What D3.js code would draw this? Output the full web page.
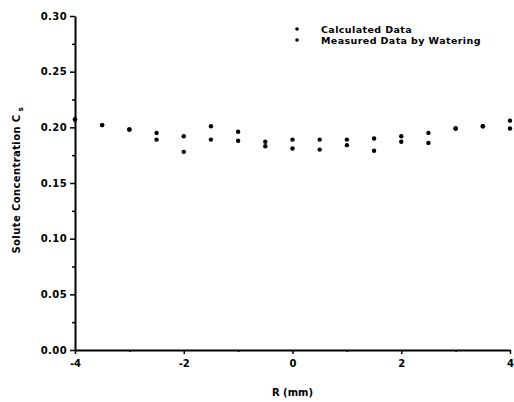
<!DOCTYPE html>
<html>
<head>
<meta charset="utf-8">
<script src="https://cdn.jsdelivr.net/npm/d3@7"></script>
<style>
  body { margin: 0; background: #fff; }
  text { font-family: "DejaVu Sans", "Liberation Sans", Arial, sans-serif; font-weight: bold; fill: #000; }
</style>
</head>
<body>
<div id="chart"></div>
<script>
// positions along R (mm)
const rValues = [-4, -3.5, -3, -2.5, -2, -1.5, -1, -0.5, 0, 0.5, 1, 1.5, 2, 2.5, 3, 3.5, 4];
const calculated = [0.207, 0.202, 0.198, 0.195, 0.192, 0.189, 0.188, 0.187, 0.189, 0.189, 0.189, 0.190, 0.192, 0.195, 0.199, 0.201, 0.206];
const measured = [0.207, 0.202, 0.198, 0.189, 0.178, 0.201, 0.196, 0.183, 0.181, 0.180, 0.184, 0.179, 0.187, 0.186, 0.199, 0.201, 0.199];
const xTicks = [-4, -2, 0, 2, 4];
const xMinor = [-3, -1, 1, 3];
const yTicks = [0, 0.05, 0.10, 0.15, 0.20, 0.25, 0.30];
const yMinor = [0.025, 0.075, 0.125, 0.175, 0.225, 0.275];
const legendLabels = ['Calculated Data', 'Measured Data by Watering'];

const W = 514, H = 402;
const margin = { top: 16, right: 4, bottom: 52, left: 75 };

const svg = d3.select('#chart').append('svg')
  .attr('width', W)
  .attr('height', H);

const x = d3.scaleLinear().domain([-4, 4]).range([margin.left, W - margin.right]);
const y = d3.scaleLinear().domain([0, 0.30]).range([H - margin.bottom, margin.top]);

// y axis
const yAxis = svg.append('g')
  .attr('transform', `translate(${margin.left},0)`)
  .call(d3.axisLeft(y).tickValues(yTicks).tickFormat(d3.format('.2f')).tickSize(5).tickSizeOuter(0).tickPadding(3));
yAxis.select('.domain').attr('stroke-width', 2);
yAxis.selectAll('.tick line').attr('stroke-width', 1.5);
yAxis.selectAll('text').style('font-size', '10px').style('letter-spacing', '0.4px');

svg.append('g')
  .attr('transform', `translate(${margin.left},0)`)
  .call(d3.axisLeft(y).tickValues(yMinor).tickFormat('').tickSize(3).tickSizeOuter(0))
  .call(g => g.select('.domain').remove())
  .selectAll('line').attr('stroke-width', 1.5);

// x axis
const xAxis = svg.append('g')
  .attr('transform', `translate(0,${H - margin.bottom})`)
  .call(d3.axisBottom(x).tickValues(xTicks).tickFormat(d => String(d)).tickSize(4).tickSizeOuter(0).tickPadding(6));
xAxis.select('.domain').attr('stroke-width', 2);
xAxis.selectAll('.tick line').attr('stroke-width', 1.5);
xAxis.selectAll('text').style('font-size', '10px');

svg.append('g')
  .attr('transform', `translate(0,${H - margin.bottom})`)
  .call(d3.axisBottom(x).tickValues(xMinor).tickFormat('').tickSize(2).tickSizeOuter(0))
  .call(g => g.select('.domain').remove())
  .selectAll('line').attr('stroke-width', 1.5);

// axis titles
svg.append('text')
  .attr('x', x(0))
  .attr('y', 396)
  .attr('text-anchor', 'middle')
  .style('font-size', '10px')
  .text('R (mm)');

const yTitle = svg.append('text')
  .attr('transform', `translate(20,180) rotate(-90)`)
  .attr('text-anchor', 'middle')
  .style('font-size', '10px')
  .style('letter-spacing', '0.4px');
yTitle.append('tspan').text('Solute Concentration C');
yTitle.append('tspan').attr('dy', 3).style('font-size', '7.5px').text(' s');

// data points
[calculated, measured].forEach(series => {
  svg.append('g')
    .selectAll('circle')
    .data(series)
    .join('circle')
    .attr('cx', (d, i) => x(rValues[i]))
    .attr('cy', d => y(d))
    .attr('r', 2.2)
    .attr('fill', '#000');
});

// legend
const legend = svg.append('g');
legendLabels.forEach((label, i) => {
  const ly = 29 + i * 11;
  legend.append('circle').attr('cx', 297).attr('cy', ly).attr('r', 1.8).attr('fill', '#000');
  legend.append('text')
    .attr('x', 321)
    .attr('y', ly + 3.5)
    .style('font-size', '9.5px')
    .style('letter-spacing', '0.4px')
    .text(label);
});
</script>
</body>
</html>
